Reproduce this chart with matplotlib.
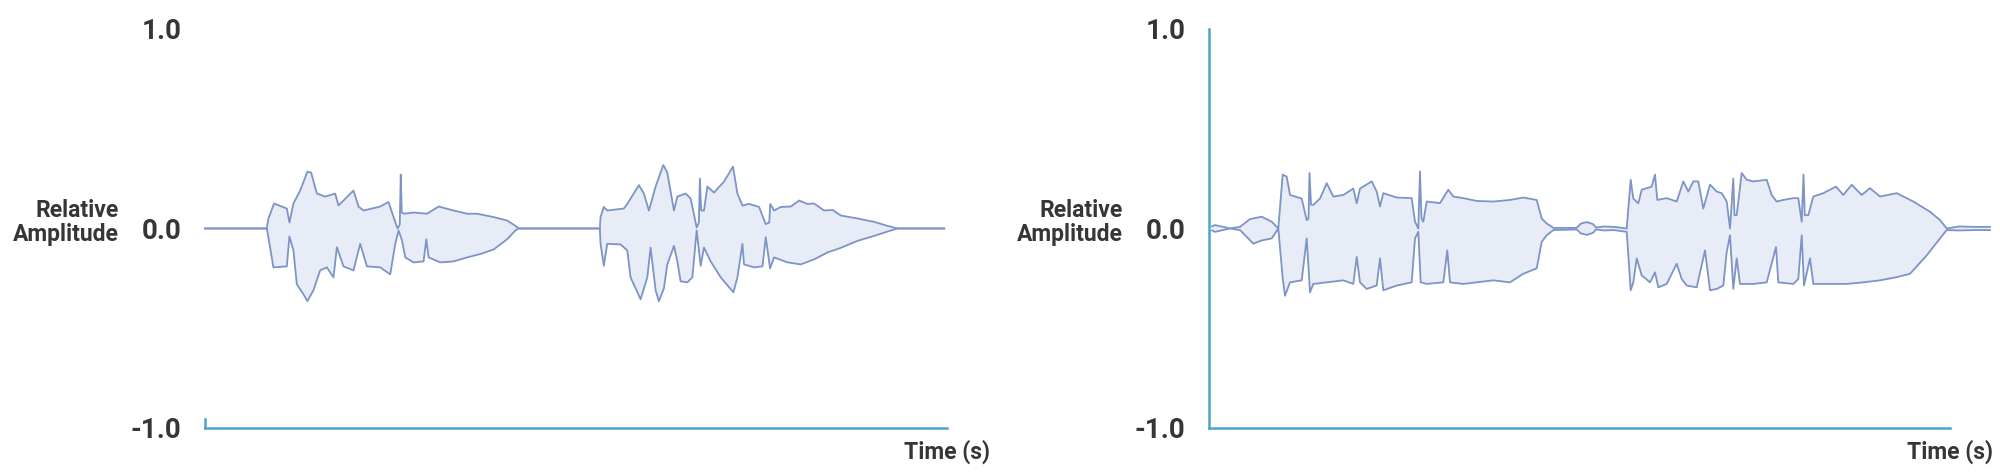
import numpy as np
import matplotlib
matplotlib.use("Agg")
import matplotlib.pyplot as plt

plt.rcParams['font.family'] = ['Roboto', 'DejaVu Sans']

# --- Waveform envelopes (time in s, relative amplitude) ---
# Left panel
left_up_t = [0.00, 0.617, 0.633, 0.69, 0.817, 0.843, 0.883, 0.95, 1.023, 1.06, 1.117, 1.20, 1.30,
             1.333, 1.383, 1.483, 1.533, 1.583, 1.75, 1.833, 1.883, 1.923, 1.945, 1.955, 1.965,
             1.983, 2.083, 2.217, 2.333, 2.483, 2.617, 2.717, 2.883, 3.017, 3.10, 3.133,
             3.943, 3.95, 3.983, 4.017, 4.183, 4.217, 4.333, 4.383, 4.433, 4.50, 4.577, 4.617,
             4.683, 4.717, 4.80, 4.85, 4.91, 4.932, 4.942, 4.955, 4.983, 5.017, 5.083, 5.183,
             5.273, 5.317, 5.367, 5.433, 5.533, 5.60, 5.635, 5.645, 5.683, 5.75, 5.85, 5.933,
             6.017, 6.083, 6.183, 6.267, 6.35, 6.517, 6.683, 6.817, 6.917, 7.383]
left_up_v = [0.0, 0.0, 0.05, 0.125, 0.10, 0.03, 0.125, 0.19, 0.285, 0.28, 0.175, 0.16, 0.175,
             0.116, 0.14, 0.19, 0.11, 0.09, 0.11, 0.133, 0.057, 0.0, 0.02, 0.27, 0.08,
             0.074, 0.08, 0.074, 0.11, 0.09, 0.074, 0.074, 0.057, 0.04, 0.013, 0.0,
             0.0, 0.057, 0.108, 0.09, 0.10, 0.123, 0.217, 0.175, 0.09, 0.21, 0.318, 0.28,
             0.09, 0.16, 0.175, 0.15, 0.005, 0.03, 0.25, 0.09, 0.09, 0.21, 0.18, 0.235,
             0.31, 0.175, 0.115, 0.123, 0.108, 0.022, 0.03, 0.123, 0.09, 0.108, 0.11, 0.14,
             0.123, 0.125, 0.09, 0.093, 0.065, 0.05, 0.033, 0.013, 0.0, 0.0]
left_lo_t = [0.00, 0.617, 0.633, 0.683, 0.817, 0.843, 0.883, 0.917, 0.983, 1.023, 1.083, 1.15,
             1.217, 1.283, 1.317, 1.383, 1.483, 1.55, 1.617, 1.75, 1.85, 1.90, 1.933, 1.967,
             2.0, 2.083, 2.183, 2.21, 2.233, 2.35, 2.483, 2.617, 2.75, 2.883, 3.017, 3.10, 3.133,
             3.943, 3.95, 3.983, 4.017, 4.15, 4.217, 4.25, 4.35, 4.417, 4.45, 4.50, 4.533,
             4.583, 4.617, 4.683, 4.717, 4.75, 4.817, 4.867, 4.91, 4.95, 4.983, 5.05, 5.15,
             5.277, 5.317, 5.367, 5.383, 5.483, 5.567, 5.60, 5.643, 5.683, 5.817, 5.95, 6.083,
             6.217, 6.35, 6.517, 6.683, 6.85, 6.917, 7.383]
left_lo_v = [0.0, 0.0, -0.044, -0.195, -0.19, -0.04, -0.11, -0.28, -0.33, -0.364, -0.31, -0.21,
             -0.195, -0.245, -0.094, -0.19, -0.21, -0.077, -0.19, -0.195, -0.23, -0.077, -0.01, -0.06,
             -0.145, -0.17, -0.165, -0.054, -0.145, -0.17, -0.165, -0.145, -0.128, -0.105, -0.054, -0.01, 0.0,
             0.0, -0.077, -0.187, -0.077, -0.08, -0.11, -0.245, -0.355, -0.245, -0.096, -0.31, -0.365,
             -0.30, -0.18, -0.087, -0.165, -0.265, -0.27, -0.245, -0.01, -0.187, -0.096, -0.165, -0.245,
             -0.32, -0.245, -0.077, -0.18, -0.195, -0.19, -0.044, -0.20, -0.145, -0.17, -0.18, -0.155,
             -0.12, -0.097, -0.062, -0.037, -0.01, 0.0, 0.0]

# Right panel
right_up_t = [0.03, 0.06, 0.143, 0.21, 0.31, 0.41, 0.527, 0.627, 0.693, 0.737, 0.777, 0.81, 0.927,
              0.977, 0.995, 1.005, 1.02, 1.043, 1.11, 1.177, 1.243, 1.343, 1.443, 1.477, 1.51,
              1.627, 1.677, 1.71, 1.743, 1.877, 2.027, 2.06, 2.093, 2.11, 2.125, 2.143, 2.177,
              2.31, 2.393, 2.443, 2.543, 2.677, 2.843, 3.01, 3.143, 3.277, 3.327, 3.377, 3.443,
              3.677, 3.72, 3.78, 3.84, 3.87, 3.95, 4.05, 4.177, 4.217, 4.243, 4.293, 4.327, 4.427,
              4.46, 4.483, 4.577, 4.677, 4.743, 4.793, 4.843, 4.893, 4.943, 5.01, 5.077, 5.127,
              5.177, 5.21, 5.243, 5.255, 5.277, 5.327, 5.377, 5.443, 5.577, 5.627, 5.677, 5.743,
              5.843, 5.893, 5.927, 5.945, 5.958, 5.993, 6.043, 6.143, 6.27, 6.343, 6.427, 6.527,
              6.61, 6.71, 6.877, 7.043, 7.21, 7.31, 7.377, 7.50, 7.65, 7.81]
right_up_v = [0.01, 0.017, 0.008, 0.0, 0.008, 0.047, 0.059, 0.034, 0.0, 0.27, 0.26, 0.168, 0.15,
              0.042, 0.05, 0.278, 0.12, 0.118, 0.15, 0.227, 0.16, 0.168, 0.20, 0.126, 0.20,
              0.236, 0.185, 0.11, 0.177, 0.155, 0.152, 0.034, 0.0, 0.286, 0.05, 0.034, 0.135,
              0.127, 0.194, 0.16, 0.152, 0.138, 0.135, 0.143, 0.155, 0.143, 0.05, 0.025, 0.003,
              0.003, 0.025, 0.032, 0.022, 0.005, 0.01, 0.008, 0.0, 0.244, 0.15, 0.126, 0.194, 0.21,
              0.27, 0.143, 0.152, 0.135, 0.236, 0.185, 0.236, 0.236, 0.10, 0.22, 0.185, 0.177,
              0.135, 0.0, 0.25, 0.067, 0.067, 0.278, 0.244, 0.236, 0.244, 0.168, 0.135, 0.143,
              0.152, 0.152, 0.034, 0.27, 0.067, 0.067, 0.16, 0.177, 0.21, 0.168, 0.219, 0.168,
              0.202, 0.16, 0.177, 0.135, 0.084, 0.042, 0.0, 0.01, 0.008, 0.008]
right_lo_t = [0.03, 0.06, 0.21, 0.31, 0.443, 0.527, 0.627, 0.693, 0.737, 0.76, 0.81, 0.927, 0.977,
              1.01, 1.043, 1.177, 1.343, 1.443, 1.477, 1.51, 1.577, 1.677, 1.71, 1.743, 1.877,
              2.027, 2.06, 2.093, 2.117, 2.177, 2.343, 2.383, 2.41, 2.543, 2.677, 2.843, 3.01,
              3.143, 3.277, 3.327, 3.377, 3.443, 3.677, 3.72, 3.78, 3.84, 3.87, 3.95, 4.05, 4.177,
              4.217, 4.243, 4.277, 4.327, 4.41, 4.46, 4.493, 4.577, 4.677, 4.727, 4.777, 4.877,
              4.96, 5.01, 5.077, 5.143, 5.177, 5.21, 5.243, 5.277, 5.31, 5.443, 5.577, 5.67,
              5.693, 5.843, 5.893, 5.927, 5.95, 6.01, 6.043, 6.243, 6.377, 6.543, 6.71, 6.877,
              7.01, 7.177, 7.31, 7.377, 7.50, 7.65, 7.81]
right_lo_v = [-0.01, -0.017, 0.0, -0.008, -0.076, -0.06, -0.05, 0.0, -0.25, -0.337, -0.27, -0.26, -0.05,
              -0.32, -0.278, -0.27, -0.26, -0.278, -0.143, -0.27, -0.303, -0.286, -0.15, -0.31, -0.286,
              -0.27, -0.05, -0.017, -0.27, -0.278, -0.27, -0.11, -0.27, -0.278, -0.27, -0.26, -0.27,
              -0.227, -0.20, -0.067, -0.034, -0.008, -0.005, -0.025, -0.032, -0.022, -0.005, -0.01, -0.008, -0.017,
              -0.31, -0.27, -0.15, -0.235, -0.27, -0.22, -0.295, -0.278, -0.177, -0.253, -0.286, -0.295,
              -0.11, -0.31, -0.303, -0.286, -0.118, -0.034, -0.303, -0.15, -0.278, -0.278, -0.27, -0.093,
              -0.27, -0.278, -0.253, -0.034, -0.286, -0.15, -0.278, -0.278, -0.278, -0.27, -0.26, -0.244,
              -0.227, -0.135, -0.05, -0.008, -0.01, -0.008, -0.008]

panels = [
    (left_up_t, left_up_v, left_lo_t, left_lo_v, False),
    (right_up_t, right_up_v, right_lo_t, right_lo_v, True),
]

y_ticks = [-1.0, 0.0, 1.0]
y_ticklabels = ['-1.0', '0.0', '1.0']

axis_color = '#4aa5cc'
wave_color = '#7d94c7'
fill_color = '#e7ecf6'
text_color = '#363636'

fig = plt.figure(figsize=(20, 4.75), dpi=100)
ax_rects = [[0.1025, 0.099, 0.371, 0.840], [0.6045, 0.099, 0.3705, 0.840]]

for rect, (ut, uv, lt, lv, full_yaxis) in zip(ax_rects, panels):
    ax = fig.add_axes(rect)
    poly_t = np.concatenate([ut, lt[::-1]])
    poly_v = np.concatenate([uv, lv[::-1]])
    ax.fill(poly_t, poly_v, color=fill_color, lw=0, clip_on=False)
    ax.plot(ut, uv, color=wave_color, lw=1.3, clip_on=False)
    ax.plot(lt, lv, color=wave_color, lw=1.3, clip_on=False)

    ax.set_xlim(0, 7.41)
    ax.set_ylim(-1, 1)
    ax.set_xticks([])
    ax.set_yticks(y_ticks)
    ax.set_yticklabels(y_ticklabels, fontsize=20, color=text_color, fontweight='bold')
    ax.tick_params(axis='y', length=0, pad=17)

    for s in ['top', 'right']:
        ax.spines[s].set_visible(False)
    for s in ['left', 'bottom']:
        ax.spines[s].set_color(axis_color)
        ax.spines[s].set_linewidth(1.8)
    if not full_yaxis:
        ax.spines['left'].set_bounds(-1, -0.955)

    ax.annotate('Relative\nAmplitude', xy=(0, 0.03), xycoords=('axes fraction', 'data'),
                xytext=(-62, 0), textcoords='offset points', ha='right', va='center',
                multialignment='right', fontsize=16.5, fontweight='bold', color=text_color,
                linespacing=1.05)
    ax.annotate('Time (s)', xy=(1, -1), xycoords=('axes fraction', 'data'),
                xytext=(31, -17), textcoords='offset points', ha='right', va='center',
                fontsize=16.5, fontweight='bold', color=text_color)

fig.savefig('out.png', dpi=100)
